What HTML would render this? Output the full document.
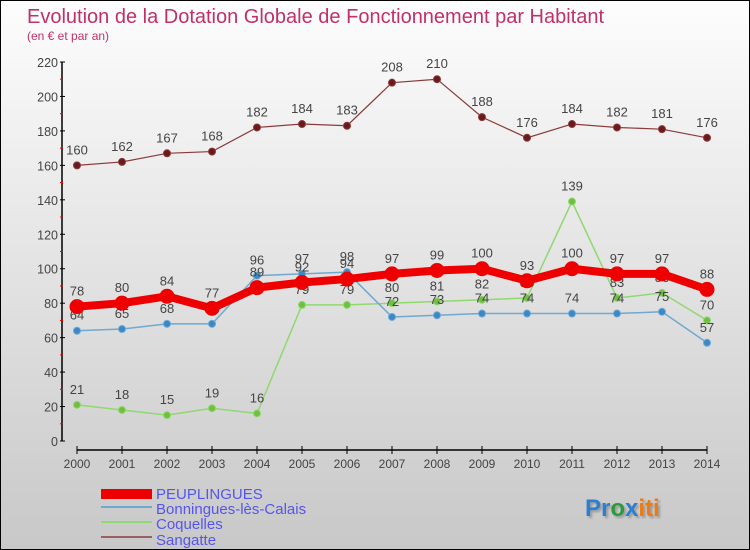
<!DOCTYPE html>
<html><head><meta charset="utf-8"><style>
body{margin:0}
#c{width:748px;height:548px;border:1px solid #000;background:linear-gradient(#fdfdfd,#c8c8c8);position:relative;font-family:"Liberation Sans",sans-serif;overflow:hidden}
svg text{font-family:"Liberation Sans",sans-serif}
</style></head><body>
<div id="c">
<svg id="s" width="748" height="548">
<text x="26" y="22" font-size="20" fill="#c0306a">Evolution de la Dotation Globale de Fonctionnement par Habitant</text>
<text x="26" y="39" font-size="12" fill="#c0306a">(en € et par an)</text>
<g id="g"></g>
<g>
<rect x="100" y="488" width="51" height="10" fill="#e00"/>
<line x1="100" y1="506" x2="151" y2="506" stroke="#6fa8d0" stroke-width="2"/>
<line x1="100" y1="521" x2="151" y2="521" stroke="#90d870" stroke-width="2"/>
<line x1="100" y1="536" x2="151" y2="536" stroke="#9a6060" stroke-width="2"/>
<text x="155" y="498" font-size="15" fill="#5555ee">PEUPLINGUES</text>
<text x="155" y="513" font-size="15" fill="#5555ee">Bonningues-lès-Calais</text>
<text x="155" y="528" font-size="15" fill="#5555ee">Coquelles</text>
<text x="155" y="544" font-size="15" fill="#5555ee">Sangatte</text>
</g>
<text x="584" y="515" font-size="24" font-weight="bold" style="text-shadow:2px 2px 2px #999"><tspan fill="#2a7fd0">Pr</tspan><tspan fill="#2a9a3a">o</tspan><tspan fill="#2a7fd0">x</tspan><tspan fill="#f07a10">iti</tspan></text>
</svg></div>
<script>
const years=[2000,2001,2002,2003,2004,2005,2006,2007,2008,2009,2010,2011,2012,2013,2014];
const peuplingues=[78,80,84,77,89,92,94,97,99,100,93,100,97,97,88];
const bonningues=[64,65,68,68,96,97,98,72,73,74,74,74,74,75,57];
const coquelles=[21,18,15,19,16,79,79,80,81,82,83,139,83,86,70];
const sangatte=[160,162,167,168,182,184,183,208,210,188,176,184,182,181,176];
const yTicks=[0,20,40,60,80,100,120,140,160,180,200,220];
const NS="http://www.w3.org/2000/svg",g=document.getElementById('g');
const X=i=>76+i*(630/(years.length-1)), Y=v=>440-v*379/220;
function el(t,a){const e=document.createElementNS(NS,t);for(const k in a)e.setAttribute(k,a[k]);g.appendChild(e);return e;}
let e=el('line',{x1:61,y1:61,x2:61,y2:440,stroke:'#000','stroke-width':1.5});


e=el('line',{x1:76,y1:449,x2:706,y2:449,stroke:'#000','stroke-width':1.5});


yTicks.forEach(v=>{
 let t=el('line',{x1:59,y1:Y(v),x2:64,y2:Y(v),stroke:'#000'});
 
 
 if(v<220){let m=el('line',{x1:59,y1:Y(v+10),x2:62,y2:Y(v+10),stroke:'#e00'});
 
 }
 let l=el('text',{x:57,y:Y(v)+5,'font-size':12.5,fill:'#444','text-anchor':'end'});l.textContent=v;
 
 
});
years.forEach((y,i)=>{
 let t=el('line',{x1:X(i),y1:445,x2:X(i),y2:453,stroke:'#000'});
 
 
 let l=el('text',{x:X(i),y:467,'font-size':12,fill:'#444','text-anchor':'middle'});l.textContent=y;
 
 
});
function series(d,color,w,r,name,fill){
 let p=el('polyline',{points:d.map((v,i)=>X(i)+','+Y(v)).join(' '),fill:'none',stroke:color,'stroke-width':w});
 
 
 d.forEach((v,i)=>{
  let c=el('circle',{cx:X(i),cy:Y(v),r:r,fill:fill,stroke:color,'stroke-width':1});
  
  
  let l=el('text',{x:X(i),y:Y(v)-11,'font-size':13,fill:'#444','text-anchor':'middle'});l.textContent=v;
  
  
 });
}
series(sangatte,'#8a3a3a',1.2,3.5,'sangatte','#6a1a1a');
series(coquelles,'#90d870',1.5,3.5,'coquelles','#70c040');
series(bonningues,'#6fa8d0',1.5,3.5,'bonningues','#3a88c8');
series(peuplingues,'#e00',8,7,'peuplingues','#e00');
</script>
</body></html>
